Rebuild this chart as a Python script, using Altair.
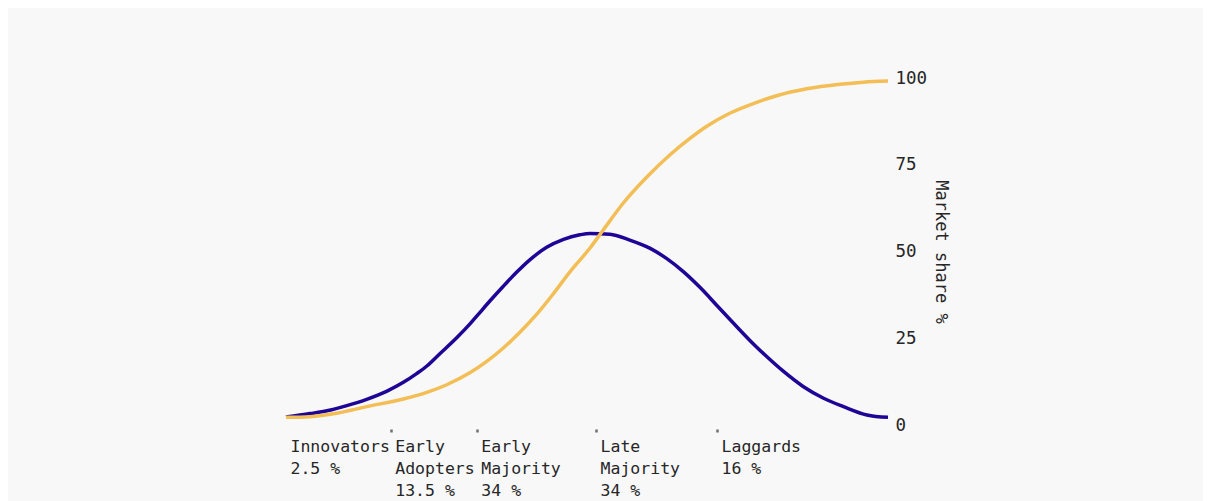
import altair as alt
import pandas as pd

# Adoption (bell) curve, blue
blue_x = [0, 4.0, 6.8, 10.1, 13.4, 16.7, 19.5, 21.7, 23.4, 25.6, 28.4, 30.6, 31.9, 33.9,
          36.1, 38.3, 40.5, 43.3, 46.1, 48.8, 50.5, 53.8, 57.1, 60.5, 63.2, 66.0, 68.8,
          71.5, 74.3, 77.1, 79.8, 82.6, 85.9, 89.3, 92.6, 96.5, 100]
blue_y = [2.3, 3.3, 4.1, 5.6, 7.4, 9.7, 12.3, 14.8, 17.0, 20.6, 25.2, 29.2, 31.8, 35.8,
          40.0, 44.0, 47.6, 51.2, 53.5, 54.8, 55.2, 55.0, 53.3, 50.9, 48.0, 44.2, 39.6,
          34.6, 29.4, 24.3, 19.8, 15.5, 11.1, 7.7, 5.3, 2.9, 2.2]

# Cumulative market share (S curve), yellow
yellow_x = [0, 4.0, 8.4, 13.4, 19.5, 23.4, 26.7, 30.6, 33.4, 36.1, 38.9, 41.7, 44.4, 47.2,
            50.5, 52.7, 56.0, 59.9, 63.8, 67.1, 69.9, 73.8, 78.2, 81.5, 86.5, 92.0, 95.9, 100]
yellow_y = [2.2, 2.4, 3.4, 5.3, 7.5, 9.4, 11.6, 15.1, 18.4, 22.2, 26.8, 32.0, 37.8, 44.2,
            51.0, 56.2, 63.9, 71.4, 77.9, 82.6, 86.1, 89.9, 93.0, 94.9, 96.9, 98.2, 98.8, 99.1]

# Category boundaries on the x axis
tick_values = [0, 17.4, 31.7, 51.5, 71.6]
tick_names = [["Innovators"], ["Early", "Adopters"], ["Early", "Majority"],
              ["Late", "Majority"], ["Laggards"]]
tick_shares = ["2.5 %", "13.5 %", "34 %", "34 %", "16 %"]

y_ticks = [0, 25, 50, 75, 100]

blue_df = pd.DataFrame({"x": blue_x, "y": blue_y})
yellow_df = pd.DataFrame({"x": yellow_x, "y": yellow_y})

expr = "''"
for v, n, s in reversed(list(zip(tick_values, tick_names, tick_shares))):
    arr = "[" + ",".join("'" + t + "'" for t in n + [s]) + "]"
    expr = f"datum.value == {v} ? {arr} : ({expr})"

FONT = "DejaVu Sans Mono"
TEXT = "#262626"

x_enc = alt.X(
    "x:Q",
    scale=alt.Scale(domain=[0, 100], nice=False, zero=False),
    axis=alt.Axis(
        values=tick_values,
        labelExpr=expr,
        title=None,
        domain=False,
        grid=False,
        offset=4,
        tickSize=3,
        tickWidth=2.5,
        tickColor="#6f6f6f",
        tickOpacity={"condition": {"test": "datum.value == 0", "value": 0}, "value": 1},
        labelAlign="left",
        labelBaseline="top",
        labelOffset=4,
        labelPadding=6,
        labelLineHeight=22,
        labelFont=FONT,
        labelFontSize=16.5,
        labelColor=TEXT,
        labelOverlap=False,
        labelBound=False,
        labelFlush=False,
    ),
)

y_enc = alt.Y(
    "y:Q",
    scale=alt.Scale(domain=[0, 100], nice=False),
    axis=alt.Axis(
        orient="right",
        values=y_ticks,
        title="Market share %",
        domain=False,
        grid=False,
        ticks=False,
        tickSize=0,
        labelPadding=7,
        labelFont=FONT,
        labelFontSize=17.5,
        labelColor=TEXT,
        titleFont=FONT,
        titleFontSize=17,
        titleFontWeight="normal",
        titleColor=TEXT,
        titlePadding=5,
    ),
)

blue = alt.Chart(blue_df).mark_line(
    color="#1e0596", strokeWidth=3.5, interpolate="monotone"
).encode(x=x_enc, y=y_enc)

yellow = alt.Chart(yellow_df).mark_line(
    color="#f2be55", strokeWidth=3.5, interpolate="monotone"
).encode(x=x_enc, y=y_enc)

chart = alt.layer(blue, yellow).properties(
    width=602,
    height=347,
    autosize="none",
    padding={"left": 278, "top": 70, "right": 315, "bottom": 84},
    background="#f8f8f8",
).configure_view(stroke=None)

chart.save("out.html", embed_options={"renderer": "svg", "actions": False})
